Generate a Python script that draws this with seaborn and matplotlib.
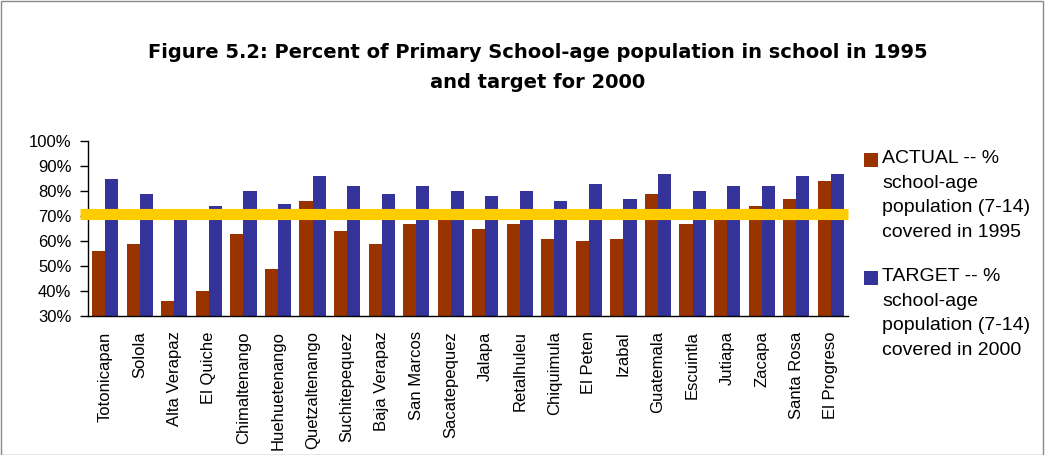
import numpy as np
import pandas as pd
import matplotlib
matplotlib.use("Agg")
import matplotlib.pyplot as plt
import seaborn as sns
from matplotlib.patches import Rectangle

departments = ["Totonicapan", "Solola", "Alta Verapaz", "El Quiche", "Chimaltenango",
               "Huehuetenango", "Quetzaltenango", "Suchitepequez", "Baja Verapaz",
               "San Marcos", "Sacatepequez", "Jalapa", "Retalhuleu", "Chiquimula",
               "El Peten", "Izabal", "Guatemala", "Escuintla", "Jutiapa", "Zacapa",
               "Santa Rosa", "El Progreso"]
actual_1995 = [56, 59, 36, 40, 63, 49, 76, 64, 59, 67, 71, 65, 67, 61, 60, 61, 79, 67, 71, 74, 77, 84]
target_2000 = [85, 79, 70, 74, 80, 75, 86, 82, 79, 82, 80, 78, 80, 76, 83, 77, 87, 80, 82, 82, 86, 87]
reference_level = 71
series_labels = ["ACTUAL -- %\nschool-age\npopulation (7-14)\ncovered in 1995",
                 "TARGET -- %\nschool-age\npopulation (7-14)\ncovered in 2000"]
yticks = [30, 40, 50, 60, 70, 80, 90, 100]
title = "Figure 5.2: Percent of Primary School-age population in school in 1995\nand target for 2000"

colors = ["#993300", "#333399"]

df = pd.DataFrame({
    "dept": departments * 2,
    "value": actual_1995 + target_2000,
    "series": ["actual"] * len(departments) + ["target"] * len(departments),
})

sns.set_style("white")
plt.rcParams["font.family"] = ["Liberation Sans", "DejaVu Sans"]
plt.rcParams["text.color"] = "black"
plt.rcParams["xtick.color"] = "black"
plt.rcParams["ytick.color"] = "black"
plt.rcParams["axes.labelcolor"] = "black"

W, H = 1045, 455
fig = plt.figure(figsize=(W / 100, H / 100), dpi=100)
ax = fig.add_axes([88 / W, 1 - 316 / H, (848 - 88) / W, (316 - 141) / H])

sns.barplot(data=df, x="dept", y="value", hue="series", palette=colors,
            width=0.76, saturation=1, ax=ax, legend=False, errorbar=None, linewidth=0)

ax.axhline(reference_level, color="#FFCC00", linewidth=8, xmin=-0.011, xmax=1.0,
           clip_on=False, zorder=5, solid_capstyle="butt")

ax.set_ylim(30, 100)
ax.set_yticks(yticks)
ax.set_yticklabels([f"{v}%" for v in yticks], fontsize=12)
n = len(departments)
ax.set_xlim(-0.5, n - 0.5)
ax.set_xticks(range(n))
ax.set_xticklabels(departments, rotation=90, fontsize=12)
ax.set_xticks(np.arange(-0.5, n, 1.0), minor=True)
ax.tick_params(axis="x", which="major", length=0, pad=11, labelcolor="black")
ax.tick_params(axis="x", which="minor", length=5, width=1, color="black", direction="out")
ax.tick_params(axis="y", length=6, width=1, color="black", direction="out", left=True, pad=6,
               labelcolor="black")
ax.set_xlabel("")
ax.set_ylabel("")
for s in ["top", "right"]:
    ax.spines[s].set_visible(False)
for s in ["left", "bottom"]:
    ax.spines[s].set_color("black")
    ax.spines[s].set_linewidth(1)

fig.text(538 / W, 1 - 67.5 / H, title, ha="center", va="center", fontsize=14,
         fontweight="bold", linespacing=1.8, family=["DejaVu Sans"], color="black")

# legend: square marker aligned with the first line of each multi-line label
legend_tops = [150, 268]
for lbl, col, ytop in zip(series_labels, colors, legend_tops):
    fig.text(882 / W, 1 - ytop / H, lbl, ha="left", va="top", fontsize=14,
             linespacing=1.58, color="black")
    fig.add_artist(Rectangle((864 / W, 1 - (ytop + 17) / H), 14 / W, 14 / H,
                             transform=fig.transFigure, facecolor=col, edgecolor="none"))

fig.add_artist(Rectangle((0.001, 0.001), 0.997, 0.997, transform=fig.transFigure,
                         fill=False, edgecolor="#888888", linewidth=1))

fig.savefig("out.png", dpi=100)
